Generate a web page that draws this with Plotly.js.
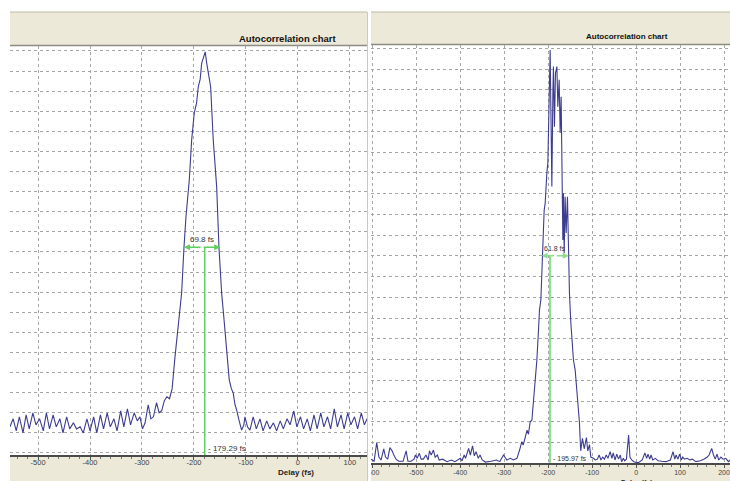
<!DOCTYPE html>
<html>
<head>
<meta charset="utf-8">
<script src="https://cdn.plot.ly/plotly-3.0.1.min.js"></script>
<style>html,body{margin:0;padding:0;background:#fff;}#chart{width:730px;height:481px;}</style>
</head>
<body>
<div id="chart"></div>
<script>
// ---- Left screenshot: delay (fs) and normalised signal ----
const leftDelay = [-554,-548,-542,-536,-529,-523,-517,-510,-504,-497,-490,-484,-478,-471,-465,-458,-452,-445,-439,-432,-426,-419,-413,-406,-400,-393,-387,-380,-374,-367,-361,-354,-348,-341,-335,-328,-322,-315,-309,-304,-299,-294,-288,-283,-278,-272,-267,-262,-257,-252,-247,-242,-236.5,-230.2,-223.7,-219.2,-215.4,-209.0,-204.4,-199.4,-195,-191.7,-188,-185.2,-182,-178.3,-175.5,-172.5,-167.9,-162.9,-156.3,-151.9,-146.7,-142,-138.5,-134,-132.1,-128,-124.4,-121,-117.9,-113,-108.3,-104,-101.9,-97,-92.3,-86,-80,-73,-67,-60,-54,-47,-41,-34,-28,-21,-15,-8,-2,5,11,18,24,31,37,44,50,57,63,70,76,83,89,96,102,109,115,122,128,133];
const leftSignal = [0.065,0.085,0.055,0.09,0.05,0.095,0.06,0.1,0.07,0.085,0.055,0.1,0.06,0.095,0.065,0.085,0.05,0.09,0.06,0.075,0.06,0.065,0.05,0.085,0.055,0.09,0.05,0.095,0.06,0.1,0.065,0.085,0.055,0.105,0.065,0.11,0.07,0.1,0.08,0.09,0.06,0.075,0.12,0.085,0.09,0.125,0.1,0.105,0.13,0.14,0.135,0.16,0.239,0.323,0.398,0.512,0.587,0.679,0.779,0.846,0.87,0.911,0.93,0.969,0.98,0.998,0.97,0.949,0.911,0.779,0.662,0.512,0.398,0.33,0.281,0.22,0.182,0.16,0.149,0.12,0.107,0.08,0.057,0.07,0.09,0.065,0.057,0.09,0.06,0.085,0.055,0.08,0.06,0.075,0.055,0.08,0.06,0.085,0.07,0.105,0.065,0.09,0.06,0.085,0.055,0.095,0.06,0.1,0.065,0.09,0.06,0.11,0.065,0.095,0.06,0.1,0.07,0.09,0.06,0.1,0.07,0.085];

// ---- Right screenshot ----
const rightDelay = [-603,-596,-590,-585,-580,-574,-570,-565,-560,-555,-551,-546,-540,-530,-523,-519,-512,-505,-502,-498,-493,-489,-484,-478,-473,-470,-466,-461,-457,-452,-448,-440,-430,-420,-412,-405,-400,-396,-391,-388,-384,-381,-377,-372,-368,-364,-359,-355,-350,-343,-330,-318,-310,-305,-301.6,-294,-286,-279,-271,-265,-260,-256.8,-252,-248,-244.8,-241,-237,-233.4,-231.1,-227.9,-225.7,-222.0,-219.8,-216.6,-214.3,-212.0,-210.7,-209.1,-206.8,-204.5,-203.0,-200.7,-199.3,-197.7,-195.5,-193.9,-191.6,-189.3,-188.0,-185.7,-183.4,-180.2,-178.0,-175.0,-172.7,-170.5,-168.2,-166.6,-165.2,-163.6,-161.4,-159.1,-156.1,-153.9,-151.6,-148.4,-146.1,-142.5,-138.6,-134.8,-131.1,-129,-126,-122,-118,-113,-110,-106,-103,-97,-93,-88,-84,-80,-76,-72,-68,-64,-59,-55,-52,-48,-44,-40,-36,-33,-29,-26,-22,-19,-17,-14,-10,-5,0,6,14,20,24,27,31,34,38,44,50,58,68,78,84,88,91,95,99,103,106,110,116,122,128,136,146,154,162,166,172,176,180,184,188,193,198,204,210,214];
const rightSignal = [0.01,0.005,0.05,0.015,0.008,0.035,0.015,0.01,0.038,0.03,0.02,0.01,0.005,0.005,0.03,0.005,0.005,0.01,0.02,0.012,0.024,0.01,0.01,0.02,0.008,0.03,0.02,0.032,0.015,0.02,0.008,0.01,0.004,0.008,0.004,0.008,0.012,0.006,0.02,0.012,0.025,0.036,0.02,0.042,0.018,0.028,0.012,0.02,0.008,0.003,0.005,0.008,0.004,0.013,0.02,0.008,0.012,0.008,0.012,0.032,0.052,0.044,0.068,0.08,0.07,0.1,0.104,0.153,0.169,0.218,0.249,0.321,0.369,0.394,0.459,0.497,0.570,0.610,0.627,0.683,0.700,0.724,0.820,0.907,0.996,0.859,0.667,0.892,0.956,0.811,0.940,0.956,0.859,0.924,0.796,0.883,0.700,0.538,0.651,0.506,0.642,0.555,0.642,0.498,0.410,0.338,0.297,0.249,0.225,0.177,0.136,0.1,0.03,0.06,0.035,0.062,0.03,0.045,0.015,0.012,0.008,0.01,0.02,0.008,0.015,0.01,0.02,0.012,0.028,0.012,0.025,0.008,0.022,0.01,0.02,0.004,0.012,0.006,0.01,0.04,0.068,0.015,0.008,0.004,0.002,0.002,0.008,0.025,0.012,0.022,0.01,0.02,0.008,0.012,0.006,0.005,0.004,0.008,0.028,0.01,0.02,0.01,0.022,0.008,0.015,0.01,0.012,0.008,0.01,0.004,0.006,0.01,0.015,0.02,0.036,0.02,0.01,0.022,0.008,0.015,0.01,0.012,0.004,0.008];

// ---- FWHM markers (left, right) ----
const fwhmCentre = [-179.29, -195.97];
const fwhmWidth = [69.8, 61.8];
const fwhmLeftEdge = [-219.3, -215.0];
const halfLevel = [0.512, 0.50];
const widthLabels = ['69.8 fs', '61.8 fs'];
const centreLabels = ['- 179.29 fs', '- 195.97 fs'];

// ---- Ticks ----
const leftTicks = [-500, -400, -300, -200, -100, 0, 100];
const leftTickText = ['-500', '-400', '-300', '-200', '-100', '0', '100'];
const rightTicks = [-600, -500, -400, -300, -200, -100, 0, 100, 200];
const rightTickText = ['-600', '-500', '-400', '-300', '-200', '-100', '0', '100', '200'];
const chartTitle = 'Autocorrelation chart';
const axisTitle = 'Delay (fs)';

const W = 730, H = 481;
const px = v => v / W;
const py = v => 1 - v / H;
const FONT = 'Liberation Sans, Arial, sans-serif';
const BEIGE = '#ECE9D8';
const LINE = '#3d3d8f';
const GREEN = ['#5ccf5c', '#8edc8e'];

const yRanges = [[-0.005, 1.0124], [0, 1.008]];

const traces = [
  {x: leftDelay, y: leftSignal, xaxis: 'x', yaxis: 'y', mode: 'lines', line: {color: LINE, width: 1.1}, hoverinfo: 'skip'},
  {x: rightDelay, y: rightSignal, xaxis: 'x2', yaxis: 'y2', mode: 'lines', line: {color: LINE, width: 1.1}, hoverinfo: 'skip'}
];
// green centre lines
[0, 1].forEach(i => {
  traces.push({
    x: [fwhmCentre[i], fwhmCentre[i]], y: [halfLevel[i], yRanges[i][0]],
    xaxis: i ? 'x2' : 'x', yaxis: i ? 'y2' : 'y', mode: 'lines',
    line: {color: GREEN[i], width: i ? 2 : 1.5}, hoverinfo: 'skip'
  });
});

const annotations = [];
[0, 1].forEach(i => {
  const xr = i ? 'x2' : 'x', yr = i ? 'y2' : 'y';
  const l = fwhmLeftEdge[i], r = fwhmLeftEdge[i] + fwhmWidth[i], mid = (l + r) / 2;
  annotations.push({x: l, y: halfLevel[i], ax: mid, ay: halfLevel[i], xref: xr, yref: yr, axref: xr, ayref: yr,
    text: '', showarrow: true, arrowhead: 2, arrowsize: 0.8, arrowwidth: 1.5, arrowcolor: GREEN[i], standoff: 0, startstandoff: 0});
  annotations.push({x: r, y: halfLevel[i], ax: mid, ay: halfLevel[i], xref: xr, yref: yr, axref: xr, ayref: yr,
    text: '', showarrow: true, arrowhead: 2, arrowsize: 0.8, arrowwidth: 1.5, arrowcolor: GREEN[i], standoff: 0, startstandoff: 0});
  annotations.push({x: mid, y: halfLevel[i], xref: xr, yref: yr, text: widthLabels[i], showarrow: false,
    xanchor: 'center', yanchor: 'middle', yshift: i ? 7 : 8, font: {family: FONT, size: i ? 7 : 8, color: '#333'}});
  annotations.push({x: fwhmCentre[i], y: 0, xref: xr, yref: yr, text: centreLabels[i], showarrow: false,
    xanchor: 'left', yanchor: 'middle', xshift: 1, yshift: i ? 5 : 4.5, font: {family: FONT, size: i ? 7 : 8, color: '#333'}});
});
annotations.push({x: px(287), y: py(38), xref: 'paper', yref: 'paper', xanchor: 'center', yanchor: 'middle',
  text: '<b>' + chartTitle + '</b>', showarrow: false, font: {family: FONT, size: 9.5, color: '#111'}});
annotations.push({x: px(626.5), y: py(37), xref: 'paper', yref: 'paper', xanchor: 'center', yanchor: 'middle',
  text: '<b>' + chartTitle + '</b>', showarrow: false, font: {family: FONT, size: 8, color: '#111'}});
annotations.push({x: px(295.5), y: py(472.5), xref: 'paper', yref: 'paper', xanchor: 'center', yanchor: 'middle',
  text: '<b>' + axisTitle + '</b>', showarrow: false, font: {family: FONT, size: 8, color: '#222'}});
annotations.push({x: px(636.5), y: py(476.5), xref: 'paper', yref: 'paper', xanchor: 'center', yanchor: 'top',
  text: '<b>' + axisTitle + '</b>', showarrow: false, font: {family: FONT, size: 7, color: '#222'}});

const gridStyle = {showgrid: true, gridcolor: '#a6a6a6', gridwidth: 1, griddash: 'dot', zeroline: false};
const xCommon = Object.assign({}, gridStyle, {
  showline: true, linecolor: '#4a4a4a', linewidth: 2, ticks: 'outside', ticklen: 3, tickwidth: 1, tickcolor: '#555',
  minor: {dtick: 20, ticks: 'outside', ticklen: 2, tickcolor: '#777', showgrid: false}, fixedrange: true
});

const layout = {
  width: W, height: H, margin: {l: 0, r: 0, t: 0, b: 0}, paper_bgcolor: '#fff', plot_bgcolor: '#fff', showlegend: false,
  xaxis: Object.assign({}, xCommon, {domain: [px(10), px(367)], range: [-554, 133], anchor: 'y', tickvals: leftTicks, ticktext: leftTickText,
    ticklabelstandoff: -4, tickfont: {family: FONT, size: 7.5, color: '#444'}}),
  yaxis: Object.assign({}, gridStyle, {domain: [py(455), py(46)], range: yRanges[0], dtick: 0.05, tick0: 0, showticklabels: false, anchor: 'x', fixedrange: true}),
  xaxis2: Object.assign({}, xCommon, {domain: [px(371), 1], range: [-603, 213.6], anchor: 'y2', tickvals: rightTicks, ticktext: rightTickText,
    ticklabelstandoff: -2, tickfont: {family: FONT, size: 7, color: '#444'}}),
  yaxis2: Object.assign({}, gridStyle, {domain: [py(463.3), py(45)], range: yRanges[1], dtick: 0.05, tick0: 0, showticklabels: false, anchor: 'x2', fixedrange: true}),
  shapes: [
    {type: 'rect', xref: 'paper', yref: 'paper', x0: px(10), x1: px(367), y0: py(45.5), y1: py(12), fillcolor: BEIGE, line: {width: 0}, layer: 'below'},
    {type: 'line', xref: 'paper', yref: 'paper', x0: px(10), x1: px(367), y0: py(12), y1: py(12), line: {color: '#bdbaa9', width: 1}, layer: 'below'},
    {type: 'line', xref: 'paper', yref: 'paper', x0: px(10), x1: px(367), y0: py(45.5), y1: py(45.5), line: {color: '#8c8c82', width: 1.5}, layer: 'below'},
    {type: 'rect', xref: 'paper', yref: 'paper', x0: px(371), x1: 1, y0: py(44.5), y1: py(12), fillcolor: BEIGE, line: {width: 0}, layer: 'below'},
    {type: 'line', xref: 'paper', yref: 'paper', x0: px(371), x1: 1, y0: py(12), y1: py(12), line: {color: '#bdbaa9', width: 1}, layer: 'below'},
    {type: 'line', xref: 'paper', yref: 'paper', x0: px(371), x1: 1, y0: py(44.5), y1: py(44.5), line: {color: '#8c8c82', width: 1.5}, layer: 'below'},
    {type: 'rect', xref: 'paper', yref: 'paper', x0: px(10), x1: px(367), y0: 0, y1: py(455), fillcolor: BEIGE, line: {width: 0}, layer: 'below'},
    {type: 'rect', xref: 'paper', yref: 'paper', x0: px(371), x1: 1, y0: 0, y1: py(463.3), fillcolor: BEIGE, line: {width: 0}, layer: 'below'},
    {type: 'rect', xref: 'paper', yref: 'paper', x0: px(358), x1: px(367), y0: 0, y1: py(464.5), fillcolor: BEIGE, line: {width: 0}, layer: 'above'},
    {type: 'rect', xref: 'paper', yref: 'paper', x0: px(367), x1: px(371), y0: 0, y1: py(455), fillcolor: '#fff', line: {width: 0}, layer: 'above'},
    {type: 'line', xref: 'paper', yref: 'paper', x0: px(367.5), x1: px(367.5), y0: 0, y1: py(12), line: {color: '#c8c8c8', width: 1}, layer: 'above'}
  ],
  annotations: annotations
};

Plotly.newPlot('chart', traces, layout, {staticPlot: true, displayModeBar: false});
</script>
</body>
</html>
